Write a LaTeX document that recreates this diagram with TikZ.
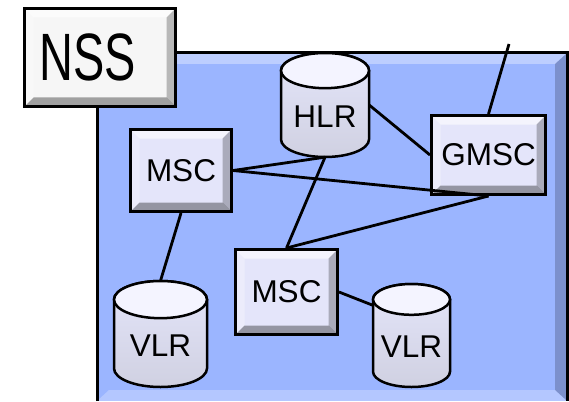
\documentclass[tikz,border=0pt]{standalone}
\usepackage{fontspec}
\setmainfont{Liberation Sans}
\newfontfamily\nssfont[FakeStretch=0.7]{Liberation Sans}

\definecolor{nssblue}{RGB}{155,181,255}
\definecolor{nodefill}{RGB}{228,229,250}
\definecolor{cylend}{RGB}{244,244,255}
\definecolor{labelfill}{RGB}{246,246,246}

\tikzset{
  bevel/.style={path picture={
    \coordinate (pnw) at (path picture bounding box.north west);
    \coordinate (pne) at (path picture bounding box.north east);
    \coordinate (psw) at (path picture bounding box.south west);
    \coordinate (pse) at (path picture bounding box.south east);
    \fill[white,opacity=0.6] (pnw) -- (pne) -- ([shift={(-9pt,-9pt)}]pne) -- ([shift={(9pt,-9pt)}]pnw) -- cycle;
    \fill[white,opacity=0.3] (pnw) -- ([shift={(9pt,-9pt)}]pnw) -- ([shift={(9pt,9pt)}]psw) -- (psw) -- cycle;
    \fill[black,opacity=0.25] (pne) -- (pse) -- ([shift={(-9pt,9pt)}]pse) -- ([shift={(-9pt,-9pt)}]pne) -- cycle;
    \fill[black,opacity=0.35] (psw) -- (pse) -- ([shift={(-9pt,9pt)}]pse) -- ([shift={(9pt,9pt)}]psw) -- cycle;
  }},
  box/.style={draw, line width=3pt, fill=nodefill, bevel, inner sep=0pt,
    font=\fontsize{31.5}{31.5}\selectfont},
  db/.style={draw, line width=2.5pt},
  dbtext/.style={inner sep=0pt, font=\fontsize{31.5}{31.5}\selectfont},
  link/.style={line width=2.8pt},
}

% database drum: name, centre x, centre y, width, height, label
\newcommand{\dbnode}[6]{%
  \pgfmathsetmacro{\dbrx}{#4/2}
  \pgfmathsetmacro{\dbry}{0.4*#4/2}
  \pgfmathsetmacro{\dbtop}{#3-#5/2+\dbry}
  \pgfmathsetmacro{\dbbot}{#3+#5/2-\dbry}
  \draw[db, top color=nodefill, bottom color=nodefill!80!gray]
    (#2-\dbrx,\dbtop) -- (#2-\dbrx,\dbbot)
    arc[start angle=180, end angle=0, x radius=\dbrx, y radius=\dbry]
    -- (#2+\dbrx,\dbtop)
    arc[start angle=0, end angle=-180, x radius=\dbrx, y radius=\dbry] -- cycle;
  \draw[db, fill=cylend] (#2,\dbtop) ellipse[x radius=\dbrx, y radius=\dbry];
  \node[dbtext, minimum width=#4pt, minimum height=#5pt] (#1) at (#2,#3)
    {\smash{\raisebox{-22pt}{#6}}};
}

\begin{document}
\begin{tikzpicture}[x=1pt,y=-1pt]
    \useasboundingbox (0,0) rectangle (569,401);
    \clip (0,0) rectangle (569,401);

    % --- Background area ---
    \fill[nssblue] (97,53) rectangle (567,401);
    \fill[white,opacity=0.35] (97,53) -- (567,53) -- (555,64) -- (109,64) -- cycle;
    \fill[black,opacity=0.2] (567,53) -- (567,401) -- (555,390) -- (555,64) -- cycle;
    \fill[white,opacity=0.25] (97,401) -- (567,401) -- (555,390) -- (109,390) -- cycle;
    \draw[line width=3pt] (97,401) -- (97,53) -- (567,53) -- (567,401);

    % --- Title ---
    \node[box, fill=labelfill, minimum width=151pt, minimum height=98pt,
      font=\nssfont\fontsize{67}{67}\selectfont] (nss) at (100,57.5) {\hspace*{-25pt}NSS};

    % --- Switches ---
    \node[box, minimum width=101pt, minimum height=82pt] (msca) at (181,170.5) {MSC};
    \node[box, minimum width=114pt, minimum height=79pt] (gmsc) at (488.5,155) {GMSC};
    \node[box, minimum width=102pt, minimum height=85pt] (mscb) at (286.5,292) {MSC};

    % --- Registers ---
    \dbnode{hlr}{325}{105}{88}{104}{HLR}
    \dbnode{vlra}{160.5}{334}{93}{106}{VLR}
    \dbnode{vlrb}{411.5}{335.5}{77}{103}{VLR}

    % --- Links ---
    \coordinate (out) at (509,44);
    \draw[link] (gmsc.north) -- (out);
    \draw[link] (hlr.east) -- (gmsc.west);
    \draw[link] (msca.east) -- (hlr.south);
    \draw[link] (msca.east) -- (gmsc.south);
    \draw[link] (hlr.south) -- (mscb.north);
    \draw[link] (mscb.north) -- (gmsc.south);
    \draw[link] (msca.south) -- (vlra.north);
    \draw[link] (mscb.east) -- (vlrb.142);

\end{tikzpicture}
\end{document}
